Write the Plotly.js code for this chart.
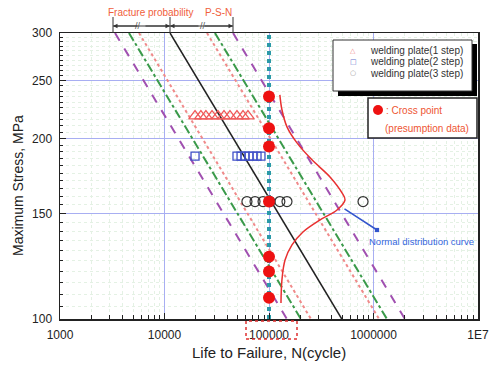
<!DOCTYPE html>
<html><head><meta charset="utf-8">
<script src="https://cdn.plot.ly/plotly-3.0.1.min.js"></script>
<style>html,body{margin:0;padding:0;background:#fff}#chart{width:489px;height:365px}</style>
</head><body><div id="chart"></div>
<script>
// ---- data ----
const xTickVals = [1000, 10000, 100000, 1000000, 10000000];
const xTickText = ['1000', '10000', '100000', '1000000', '1E7'];
const yTickVals = [100, 150, 200, 250, 300];
const yTickText = ['100', '150', '200', '250', '300'];

// P-S-N lines: life N at stress 300 and at stress 100
const lineStress = [300, 100];
const purpleLeftN = [3360, 148500];
const greenLeftN = [4570, 202000];
const redLeftN = [5700, 252000];
const meanN = [11300, 497000];
const redRightN = [25500, 1130000];
const greenRightN = [30400, 1345000];
const purpleRightN = [45300, 2000000];

// test data
const step1N = [19600, 22300, 24900, 28500, 32500, 37100, 42300, 49400, 56400, 62900];
const step1S = [218, 218, 218, 218, 218, 218, 218, 218, 218, 218];
const step2N = [19600, 49400, 54000, 58900, 64400, 70300, 76800, 83800];
const step2S = [187, 187, 187, 187, 187, 187, 187, 187];
const step3N = [61500, 73500, 87700, 102000, 127000, 148600, 794000];
const step3S = [157, 157, 157, 157, 157, 157, 157];

// cross points (presumption data) at N = 100000
const crossLineN = [100000, 100000];
const crossLineS = [100, 300];
const crossN = [100000, 100000, 100000, 100000, 100000, 100000, 100000];
const crossS = [235, 208, 194, 157, 127, 120, 108.5];

// normal distribution curve (hand drawn in original)
const curveN = [127000, 133000, 148600, 185300, 257800, 383400, 500000, 533800, 447600, 307800, 211300, 166000, 142400, 133000, 130200];
const curveS = [236.6, 223.4, 209.2, 196.7, 184.3, 172.6, 162.3, 158.0, 152.0, 146.3, 139.7, 132.9, 125.4, 116.2, 106.3];

// minor ticks
const xMinor = [];
[1000, 10000, 100000, 1000000].forEach(d => { for (let k = 2; k <= 9; k++) xMinor.push(k * d); });
const yMinor = [];
for (let s = 105; s < 300; s += 5) { if (s % 50 !== 0) yMinor.push(s); }

// ---- helpers: pixel -> paper for decorations ----
const L = 60, R = 478, T = 33, B = 319;
const X = px => (px - L) / (R - L);
const Y = py => (B - py) / (B - T);

const F = 'Arial, "Liberation Sans", sans-serif';

function bandLine(xs, color, dash, width) {
  return {x: xs, y: lineStress, type: 'scatter', mode: 'lines', showlegend: false,
    line: {color: color, dash: dash, width: width}, hoverinfo: 'skip'};
}

const traces = [
  bandLine(purpleLeftN, '#a050b0', 'dash', 2),
  bandLine(greenLeftN, '#3a9a4a', 'dashdot', 2),
  bandLine(redLeftN, '#f08a8a', 'dot', 2),
  bandLine(redRightN, '#f08a8a', 'dot', 2),
  bandLine(greenRightN, '#3a9a4a', 'dashdot', 2),
  bandLine(purpleRightN, '#a050b0', 'dash', 2),
  bandLine(meanN, '#222222', 'solid', 1.5),
  {x: crossLineN, y: crossLineS, type: 'scatter', mode: 'lines', showlegend: false,
    line: {color: '#2b9aa8', dash: 'dot', width: 4}},
  {x: curveN, y: curveS, type: 'scatter', mode: 'lines', showlegend: false,
    line: {color: '#e83030', width: 1.5, shape: 'spline'}},
  {x: step1N, y: step1S, type: 'scatter', mode: 'markers', name: 'welding plate(1 step)',
    marker: {symbol: 'triangle-up-open', size: 11, color: '#f05a5a', line: {width: 1.3}}},
  {x: step2N, y: step2S, type: 'scatter', mode: 'markers', name: 'welding plate(2 step)',
    marker: {symbol: 'square-open', size: 8, color: '#4050c8', line: {width: 1.3}}},
  {x: step3N, y: step3S, type: 'scatter', mode: 'markers', name: 'welding plate(3 step)',
    marker: {symbol: 'circle-open', size: 10, color: '#333333', line: {width: 1.2}}},
  {x: crossN, y: crossS, type: 'scatter', mode: 'markers', name: 'Cross point',
    marker: {symbol: 'circle', size: 12, color: '#ee1111'}}
];

const shapes = [
  // legend shadow + box
  {type: 'rect', xref: 'paper', yref: 'paper', x0: X(338), x1: X(477), y0: Y(96), y1: Y(44),
    fillcolor: '#000', line: {width: 0}, layer: 'above'},
  {type: 'rect', xref: 'paper', yref: 'paper', x0: X(333), x1: X(472), y0: Y(91), y1: Y(40),
    fillcolor: '#fff', line: {color: '#333', width: 1}, layer: 'above'},
  // cross point box
  {type: 'rect', xref: 'paper', yref: 'paper', x0: X(368), x1: X(477), y0: Y(138), y1: Y(98),
    fillcolor: '#fff', line: {color: '#222', width: 1.5}, layer: 'above'},
  {type: 'circle', xref: 'paper', yref: 'paper', x0: X(373), x1: X(383), y0: Y(115), y1: Y(105),
    fillcolor: '#ee1111', line: {width: 0}, layer: 'above'},
  // dotted box round 100000 label
  {type: 'rect', xref: 'paper', yref: 'paper', x0: X(246), x1: X(297), y0: Y(339), y1: Y(321),
    line: {color: '#e03030', width: 1.5, dash: 'dot'}},
  // dimension line ticks
  {type: 'line', xref: 'paper', yref: 'paper', x0: X(113), x1: X(113), y0: Y(17), y1: Y(33), line: {color: '#333', width: 1}},
  {type: 'line', xref: 'paper', yref: 'paper', x0: X(170), x1: X(170), y0: Y(17), y1: Y(33), line: {color: '#333', width: 1}},
  {type: 'line', xref: 'paper', yref: 'paper', x0: X(233), x1: X(233), y0: Y(17), y1: Y(33), line: {color: '#333', width: 1}},
  {type: 'line', xref: 'paper', yref: 'paper', x0: X(113), x1: X(233), y0: Y(26), y1: Y(26), line: {color: '#333', width: 1}}
];

function txt(px, py, text, size, color, anchor, extra) {
  return Object.assign({xref: 'paper', yref: 'paper', x: X(px), y: Y(py), text: text, showarrow: false,
    xanchor: anchor || 'center', yanchor: 'middle',
    font: {family: F, size: size, color: color}}, extra || {});
}
function arrowAnn(px, ax) {
  return {xref: 'paper', yref: 'paper', x: X(px), y: Y(26), ax: ax, ay: 0, text: '', showarrow: true,
    arrowhead: 2, arrowsize: 0.9, arrowwidth: 1, arrowcolor: '#333'};
}

const annotations = [
  txt(151, 12, 'Fracture probability', 10, '#f0603c'),
  txt(218, 12, 'P-S-N', 10, '#f0603c'),
  txt(138, 26, '//', 9, '#555'),
  txt(203, 26, '//', 9, '#555'),
  arrowAnn(113, 26), arrowAnn(170, -26), arrowAnn(170, 30), arrowAnn(233, -30),
  // legend entries
  txt(353, 51, '△', 7, '#f08a8a', 'center', {font: {family: 'DejaVu Sans', size: 7, color: '#f08a8a'}}),
  txt(353, 62, '□', 7, '#6070cc', 'center', {font: {family: 'DejaVu Sans', size: 7, color: '#6070cc'}}),
  txt(353, 73, '○', 7, '#999', 'center', {font: {family: 'DejaVu Sans', size: 7, color: '#999'}}),
  txt(368, 51, 'welding plate(1 step)', 10, '#333', 'left'),
  txt(368, 62, 'welding plate(2 step)', 10, '#333', 'left'),
  txt(368, 73, 'welding plate(3 step)', 10, '#333', 'left'),
  txt(384, 110, ': Cross point', 10, '#ee5533', 'left'),
  txt(427, 128, '(presumption data)', 10, '#ee5533'),
  // normal distribution arrow + label
  {xref: 'paper', yref: 'paper', x: X(377), y: Y(230), ax: -34, ay: -22, text: '', showarrow: true,
    arrowhead: 7, arrowsize: 0.7, arrowwidth: 1.5, arrowcolor: '#3355cc'},
  txt(421, 241, 'Normal distribution curve', 9.5, '#3366dd'),
  // axis titles
  txt(18, 186, 'Maximum Stress, MPa', 14, '#222', 'center', {textangle: -90}),
  txt(269, 352, 'Life to Failure, N(cycle)', 15, '#222')
];

const layout = {
  width: 489, height: 365,
  margin: {l: L, r: 489 - R, t: T, b: 365 - B, pad: 0},
  paper_bgcolor: '#fff', plot_bgcolor: '#fff',
  showlegend: false,
  font: {family: F, size: 12, color: '#222'},
  xaxis: {
    type: 'log', range: [3, 7], tickmode: 'array', tickvals: xTickVals, ticktext: xTickText,
    ticks: 'inside', ticklen: 6, tickcolor: '#222', tickwidth: 1, ticklabelstandoff: 4,
    showline: true, linecolor: '#222', linewidth: 1.5, mirror: true,
    showgrid: true, gridcolor: '#a8aef2', gridwidth: 1, zeroline: false,
    tickfont: {family: F, size: 12, color: '#222'},
    minor: {tickmode: 'array', tickvals: xMinor, ticks: 'inside', ticklen: 4, tickcolor: '#222',
      showgrid: true, gridcolor: '#e4f1e4', griddash: 'dot', gridwidth: 1}
  },
  yaxis: {
    type: 'log', range: [2, Math.log10(300)], tickmode: 'array', tickvals: yTickVals, ticktext: yTickText,
    ticks: 'inside', ticklen: 6, tickcolor: '#222', tickwidth: 1, ticklabelstandoff: 4,
    showline: true, linecolor: '#222', linewidth: 1.5, mirror: true,
    showgrid: true, gridcolor: '#a8aef2', gridwidth: 1, zeroline: false,
    tickfont: {family: F, size: 12, color: '#222'},
    minor: {tickmode: 'array', tickvals: yMinor, ticks: 'inside', ticklen: 3, tickcolor: '#222',
      showgrid: true, gridcolor: '#e4f1e4', griddash: 'dot', gridwidth: 1}
  },
  shapes: shapes,
  annotations: annotations
};

Plotly.newPlot('chart', traces, layout, {staticPlot: true, displayModeBar: false});
</script></body></html>
